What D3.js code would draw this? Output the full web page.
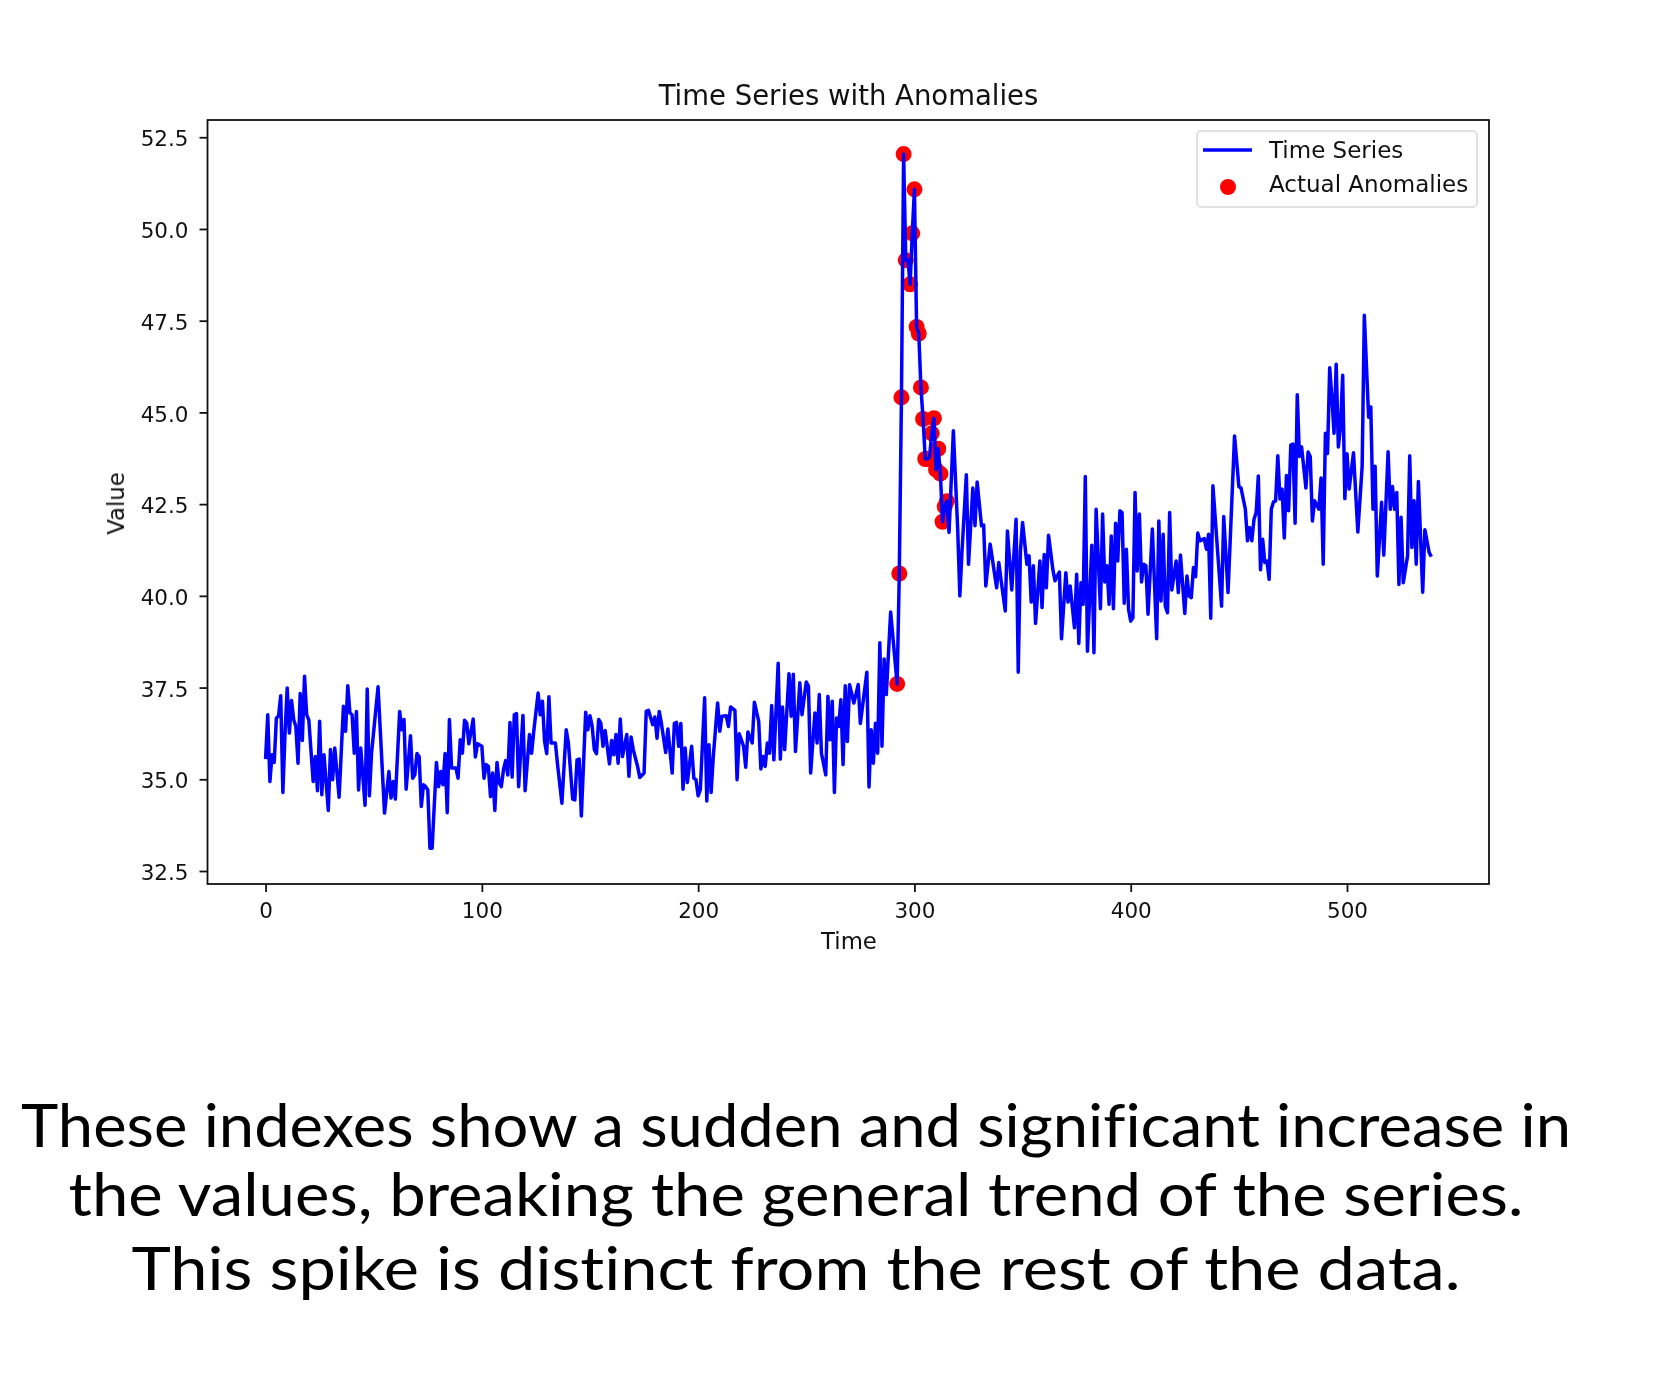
<!DOCTYPE html>
<html>
<head>
<meta charset="utf-8">
<script src="https://cdn.jsdelivr.net/npm/d3@7"></script>
<style>
  html, body { margin: 0; background: #fff; }
  svg { display: block; }
  text { font-family: "DejaVu Sans", sans-serif; fill: #111; }
  .caption { font-family: "Comic Sans MS", "Lato", sans-serif; fill: #000; font-variant-ligatures: none; }
</style>
</head>
<body>
<svg id="chart" width="1660" height="1400"></svg>
<script>
const TITLE = "Time Series with Anomalies";
const X_LABEL = "Time";
const Y_LABEL = "Value";
const LEGEND_LABELS = ["Time Series", "Actual Anomalies"];
const CAPTION_LINES = [
  "These indexes show a sudden and significant increase in",
  "the values, breaking the general trend of the series.",
  "This spike is distinct from the rest of the data."
];
const X_TICKS = [0, 100, 200, 300, 400, 500];
const Y_TICKS = [32.5, 35, 37.5, 40, 42.5, 45, 47.5, 50, 52.5];

// turning points: time index and value, row by row
const seriesTimes = [
  0,1,2,3,4,5,6,7,8,9,10,11,12,13,14,15,16,17,18,19,
  20,22,23,24,25,26,27,29,30,31,32,34,36,37,38,39,40,41,42,43,
  44,46,47,48,49,52,55,57,58,59,60,62,63,64,65,67,68,69,70,71,
  72,73,74,75,76,77,79,80,81,82,83,84,85,86,88,89,90,91,92,93,
  94,96,97,98,100,101,102,103,104,105,106,107,108,109,110,111,112,113,114,115,
  116,117,119,120,122,123,124,126,127,128,129,130,131,132,134,135,137,139,140,142,
  143,144,145,146,148,149,150,151,152,153,154,155,156,157,159,160,161,162,163,164,
  165,167,168,169,170,172,173,175,176,177,179,180,181,182,183,185,186,188,189,190,
  191,192,193,194,195,197,198,199,200,201,203,204,205,206,207,209,210,211,213,214,
  215,217,218,219,221,222,223,225,226,228,229,230,231,232,233,234,235,237,238,239,
  240,242,243,244,245,247,248,250,251,252,254,255,256,257,259,260,261,262,263,264,
  265,266,267,268,269,270,272,274,275,276,278,279,280,281,282,283,284,285,286,287,
  289,292,293,294,295,296,297,298,299,300,301,302,303,304,305,306,307,308,309,310,
  311,312,313,314,315,316,318,320,321,322,324,325,327,328,329,331,332,333,335,338,
  339,340,342,343,345,347,348,349,350,352,353,354,355,356,358,359,360,361,362,364,
  365,367,368,370,371,372,374,375,376,377,378,379,380,382,383,384,386,387,388,389,
  390,391,392,393,394,395,396,397,398,399,400,401,402,403,404,405,406,407,408,410,
  412,413,414,415,416,417,418,419,421,422,423,425,426,427,428,429,430,431,432,434,
  435,436,437,438,442,443,445,448,450,451,453,454,455,456,457,458,459,460,461,462,
  463,464,465,466,467,468,469,470,471,472,473,474,475,476,477,478,479,481,482,483,
  484,485,487,488,489,490,491,492,493,494,495,496,497,498,499,500,501,503,505,507,
  508,510,511,512,513,514,516,517,519,520,521,522,523,524,525,526,528,529,530,531,
  532,533,535,536,538,539
];
const seriesValues = [
  35.55,36.76,34.94,35.67,35.46,36.67,36.72,37.28,34.64,36.26,37.49,36.26,37.15,36.63,36.44,35.44,37.34,36.06,37.81,36.76,
  36.61,34.94,35.62,34.69,36.58,34.58,35.67,34.15,35.81,34.99,35.85,34.51,36.99,36.31,37.55,36.81,36.76,35.71,36.85,34.71,
  35.85,34.29,37.46,34.55,35.71,37.52,34.08,35.21,34.49,34.94,34.46,36.85,36.35,36.63,34.73,36.19,35.03,35.12,35.70,35.62,
  34.26,34.85,34.80,34.71,33.12,33.12,35.46,34.80,35.21,34.85,35.70,34.09,36.63,35.31,35.31,35.03,36.08,35.71,36.61,36.53,
  35.97,36.64,35.61,35.97,35.90,35.03,35.40,35.35,34.53,35.17,34.15,35.46,34.90,34.80,35.26,35.51,35.12,36.55,35.06,36.76,
  36.79,34.80,36.74,34.69,36.22,35.71,36.31,37.35,36.76,37.13,36.03,35.70,37.25,35.99,35.99,35.40,34.35,36.35,35.99,34.46,
  34.44,35.53,35.55,34.00,36.83,36.35,36.73,36.44,35.81,35.70,36.63,36.53,35.90,36.33,35.42,36.06,35.67,36.22,35.44,36.64,
  35.62,36.22,35.08,36.15,35.81,35.35,35.05,35.17,36.85,36.88,36.49,36.70,36.12,36.85,36.53,35.73,36.37,35.17,36.52,36.55,
  35.90,36.52,34.73,35.85,34.91,35.90,35.03,34.99,34.55,34.71,37.22,34.41,35.94,34.64,35.62,37.08,36.31,36.72,36.73,36.44,
  36.97,36.88,34.99,36.24,35.90,35.33,36.29,35.99,37.10,36.58,35.28,35.62,35.35,35.99,35.71,37.01,35.53,38.16,35.55,36.97,
  35.81,37.88,36.72,37.86,35.76,37.63,36.76,37.65,37.54,35.17,36.81,35.99,37.31,35.71,35.12,37.26,36.08,37.13,34.64,36.67,
  36.44,37.17,35.40,37.55,36.03,37.58,37.08,37.58,36.52,36.99,37.92,34.79,36.35,35.44,36.53,35.71,38.72,35.90,38.28,37.31,
  39.56,37.60,40.61,45.41,52.04,49.15,49.16,48.49,49.88,51.08,47.33,47.15,45.68,44.82,43.73,43.73,43.78,44.43,44.84,43.44,
  44.01,43.33,42.02,42.43,42.58,41.73,44.50,41.82,40.00,41.22,43.30,40.86,42.94,41.91,43.10,41.91,41.93,40.27,41.41,40.22,
  40.91,40.45,39.59,41.77,40.16,42.09,37.92,41.22,42.00,40.86,41.09,39.83,40.82,39.25,40.95,39.68,41.13,40.22,41.65,40.72,
  40.41,40.65,38.83,40.63,39.83,40.27,39.13,40.59,38.70,40.36,39.77,43.25,38.49,41.38,38.45,42.36,39.65,42.23,40.38,40.82,
  39.77,41.63,39.65,41.98,40.95,42.32,42.27,39.80,41.27,39.63,39.31,39.40,42.82,40.68,42.23,40.38,40.86,40.82,39.50,41.82,
  38.83,42.04,39.86,41.68,39.72,39.54,42.27,40.16,40.95,40.09,41.11,39.52,40.54,40.00,39.95,40.77,40.52,41.71,41.50,41.56,
  41.27,41.68,39.39,43.00,39.72,42.16,40.09,44.36,42.98,42.94,42.36,41.50,41.86,41.50,42.09,42.27,43.27,40.71,41.54,40.91,
  40.95,40.45,42.36,42.56,42.59,43.82,42.64,42.91,41.58,43.28,42.32,44.11,44.14,41.98,45.48,43.80,44.06,42.94,43.92,43.80,
  42.04,42.59,42.36,43.21,40.86,44.43,43.88,46.22,45.42,44.43,46.31,44.06,44.61,46.01,42.65,43.87,42.91,43.90,41.74,43.53,
  47.65,44.87,45.15,42.36,43.53,40.54,42.55,41.11,43.93,42.36,42.98,42.36,42.82,40.31,42.14,40.36,41.09,43.82,41.32,42.59,
  40.86,43.12,40.10,41.80,41.18,41.07
];
const anomalyTimes = [292,293,294,295,296,298,299,300,301,302,303,304,305,306,308,309,310,311,312,313,314,315];

const svg = d3.select("#chart");
const margin = { left: 207.5, right: 1489, top: 120, bottom: 884 };

const x = d3.scaleLinear().domain([-26.85, 565.65]).range([margin.left, margin.right]);
const y = d3.scaleLinear().domain([32.146, 52.97]).range([margin.bottom, margin.top]);

const points = d3.zip(seriesTimes, seriesValues);
const valueAt = new Map(points);

const line = d3.line().x((d) => x(d[0])).y((d) => y(d[1]));

// the reference is an upscaled screenshot, so the plot is a little soft
const plot = svg.append("g").style("filter", "blur(0.5px)");

// scatter goes under the line, like the matplotlib zorder
plot.append("g")
  .selectAll("circle")
  .data(anomalyTimes)
  .join("circle")
  .attr("cx", (t) => x(t))
  .attr("cy", (t) => y(valueAt.get(t)))
  .attr("r", 8)
  .attr("fill", "#ff0000");

plot.append("path")
  .datum(points)
  .attr("d", line)
  .attr("fill", "none")
  .attr("stroke", "#0000ff")
  .attr("stroke-width", 3.5)
  .attr("stroke-linejoin", "round");

// axes
const xAxis = d3.axisBottom(x).tickValues(X_TICKS).tickFormat(d3.format("d")).tickSize(8).tickPadding(11);
const yAxis = d3.axisLeft(y).tickValues(Y_TICKS).tickFormat(d3.format(".1f")).tickSize(8).tickPadding(11);

function styleAxis(g) {
  g.select(".domain").remove();
  g.selectAll(".tick line").attr("stroke", "#111").attr("stroke-width", 1.8);
  g.selectAll(".tick text").attr("font-size", 21.5).attr("font-family", "DejaVu Sans").attr("fill", "#222");
}

plot.append("g").attr("transform", `translate(0,${margin.bottom})`).call(xAxis).call(styleAxis);
plot.append("g").attr("transform", `translate(${margin.left},0)`).call(yAxis).call(styleAxis)
  .selectAll(".tick text").attr("dy", "0.4em");

plot.append("rect")
  .attr("x", margin.left)
  .attr("y", margin.top)
  .attr("width", margin.right - margin.left)
  .attr("height", margin.bottom - margin.top)
  .attr("fill", "none")
  .attr("stroke", "#111")
  .attr("stroke-width", 1.8);

// titles
plot.append("text")
  .attr("x", 848.5)
  .attr("y", 105)
  .attr("text-anchor", "middle")
  .attr("font-size", 27.5)
  .text(TITLE);

plot.append("text")
  .attr("x", 849)
  .attr("y", 949)
  .attr("text-anchor", "middle")
  .attr("font-size", 22.8)
  .text(X_LABEL);

plot.append("text")
  .attr("transform", "translate(124,503.5) rotate(-90)")
  .attr("text-anchor", "middle")
  .attr("font-size", 22.8)
  .text(Y_LABEL);

// legend
const legend = plot.append("g");

legend.append("rect")
  .attr("x", 1197)
  .attr("y", 131)
  .attr("width", 280)
  .attr("height", 76)
  .attr("rx", 4)
  .attr("fill", "#fff")
  .attr("stroke", "#d8d8d8")
  .attr("stroke-width", 1.5);

legend.append("line")
  .attr("x1", 1203)
  .attr("x2", 1252)
  .attr("y1", 150)
  .attr("y2", 150)
  .attr("stroke", "#0000ff")
  .attr("stroke-width", 3.5);

legend.append("circle")
  .attr("cx", 1228)
  .attr("cy", 187)
  .attr("r", 8)
  .attr("fill", "#ff0000");

legend.selectAll("text")
  .data(LEGEND_LABELS)
  .join("text")
  .attr("x", 1269)
  .attr("y", (_, i) => 158 + i * 33.5)
  .attr("font-size", 23)
  .text((d) => d);

// caption under the chart
const captionFit = [
  { cx: 796, base: 1147, width: 1550 },
  { cx: 796, base: 1216, width: 1455 },
  { cx: 796, base: 1290, width: 1329 }
];

svg.selectAll(".caption")
  .data(CAPTION_LINES)
  .join("text")
  .attr("class", "caption")
  .attr("x", (_, i) => captionFit[i].cx)
  .attr("y", (_, i) => captionFit[i].base)
  .attr("text-anchor", "middle")
  .attr("font-size", 60)
  .attr("textLength", (_, i) => captionFit[i].width)
  .attr("lengthAdjust", "spacingAndGlyphs")
  .text((d) => d);
</script>
</body>
</html>
